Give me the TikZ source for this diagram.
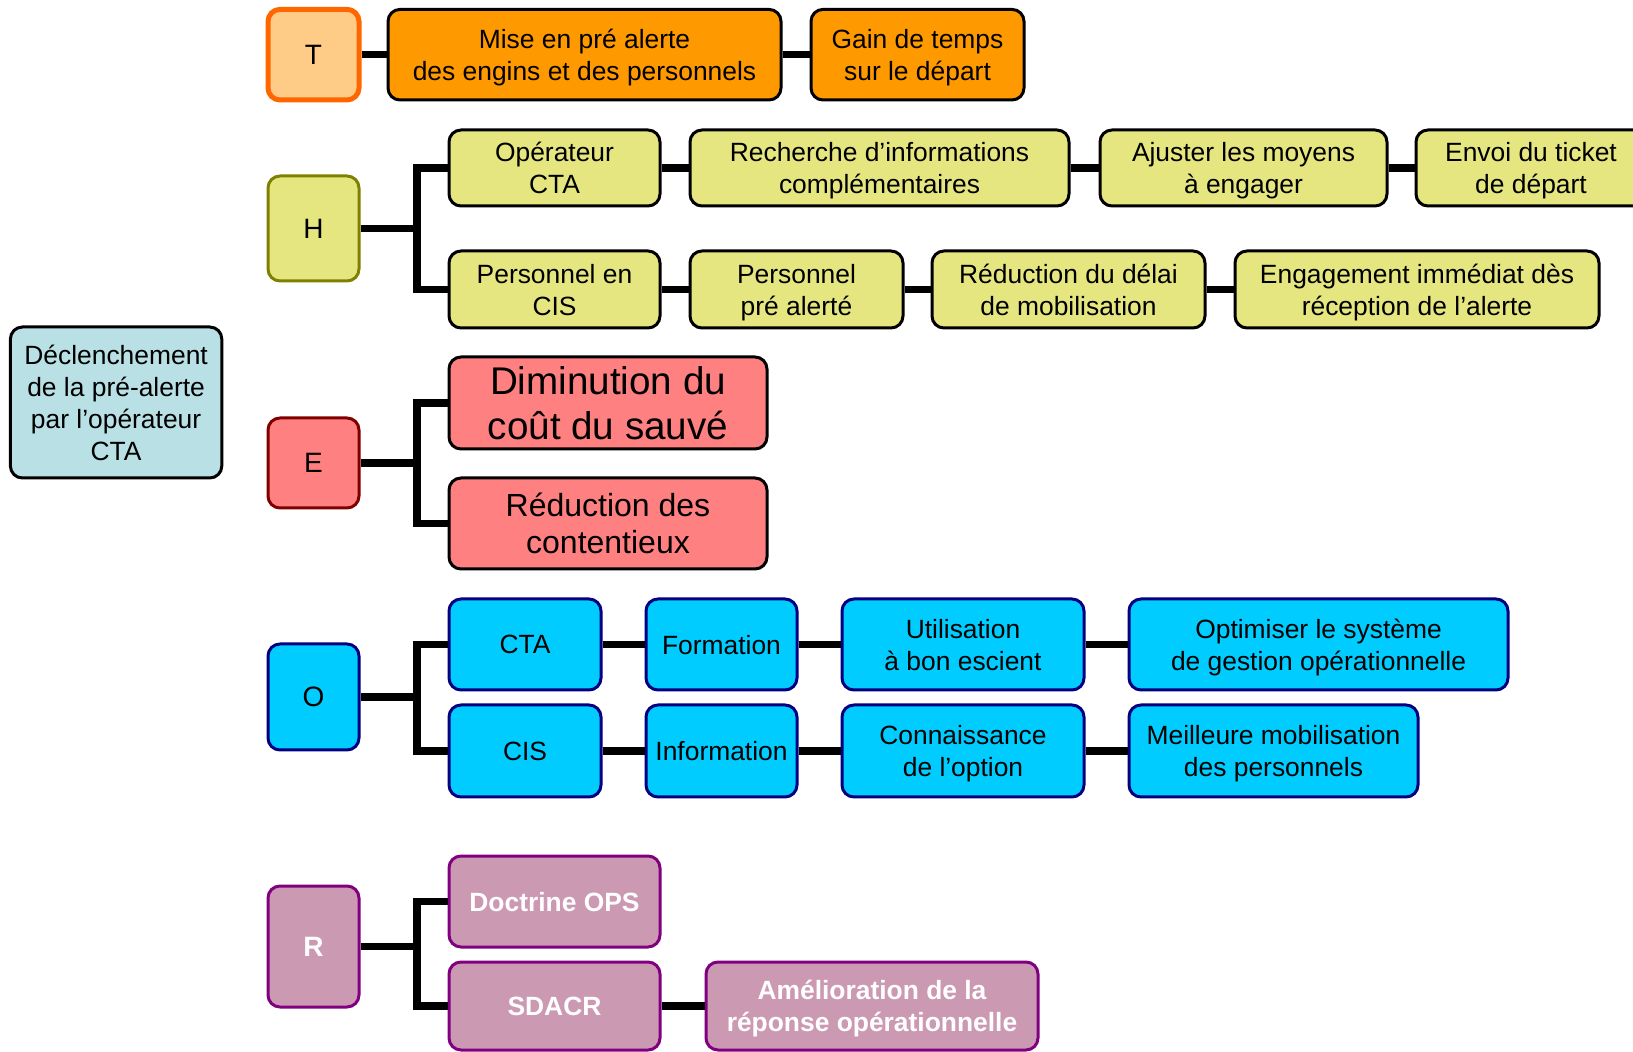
\documentclass[tikz,border=0pt]{standalone}
\usepackage{fontspec}
\setmainfont{Liberation Sans}
\usepackage{xcolor}
\definecolor{tfill}{RGB}{255,204,136}
\definecolor{tline}{RGB}{255,102,0}
\definecolor{orangebox}{RGB}{255,153,0}
\definecolor{hfill}{RGB}{230,230,128}
\definecolor{hline}{RGB}{128,128,0}
\definecolor{efill}{RGB}{255,128,128}
\definecolor{eline}{RGB}{128,0,0}
\definecolor{ofill}{RGB}{0,204,255}
\definecolor{oline}{RGB}{0,0,128}
\definecolor{rfill}{RGB}{204,153,179}
\definecolor{rline}{RGB}{128,0,128}
\definecolor{rootfill}{RGB}{185,224,228}

\begin{document}
\begin{tikzpicture}[x=0.5pt, y=0.5pt, align=center,
    box/.style={draw=black, rounded corners=6pt, line width=1.5pt, inner sep=0pt, text depth=0pt,
      font=\fontsize{13.2}{16}\selectfont},
    letter/.style={box, minimum width=45.5pt, font=\fontsize{14}{16}\selectfont},
    link/.style={black, line width=3.8pt}]
            \useasboundingbox (0,0) rectangle (1633,-1052);
            \clip (0,0) rectangle (1633,-1052);
            \node [box, fill=rootfill, minimum width=105.7pt, minimum height=75.5pt] (root) at (116.1,-402.5) {Déclenchement\\de la pré-alerte\\par l’opérateur\\CTA};
            \node [letter, fill=tfill, draw=tline, line width=2.5pt, minimum height=45.3pt] (T) at (313.5,-54.7) {T};
            \node [box, fill=orangebox, minimum width=196.5pt, minimum height=45.3pt] (mise) at (584.5,-54.7) {Mise en pré alerte\\des engins et des personnels};
            \node [box, fill=orangebox, minimum width=106.5pt, minimum height=45.3pt] (gain) at (917.5,-54.7) {Gain de temps\\sur le départ};
            \draw [link] (T) -- (mise);
            \draw [link] (mise) -- (gain);
            \node [letter, fill=hfill, draw=hline, minimum height=52.5pt] (H) at (313.5,-228.5) {H};
            \node [box, fill=hfill, minimum width=105.5pt, minimum height=38pt] (opcta) at (554.5,-168) {Opérateur\\CTA};
            \node [box, fill=hfill, minimum width=189.5pt, minimum height=38pt] (recherche) at (879.5,-168) {Recherche d’informations\\complémentaires};
            \node [box, fill=hfill, minimum width=143.5pt, minimum height=38pt] (ajuster) at (1243.5,-168) {Ajuster les moyens\\à engager};
            \node [box, fill=hfill, minimum width=115pt, minimum height=38pt] (envoi) at (1531,-168) {Envoi du ticket\\de départ};
            \node [box, fill=hfill, minimum width=105.5pt, minimum height=38.5pt] (perscis) at (554.5,-289.5) {Personnel en\\CIS};
            \node [box, fill=hfill, minimum width=106.5pt, minimum height=38.5pt] (persalerte) at (796.5,-289.5) {Personnel\\pré alerté};
            \node [box, fill=hfill, minimum width=136.5pt, minimum height=38.5pt] (delai) at (1068.5,-289.5) {Réduction du délai\\de mobilisation};
            \node [box, fill=hfill, minimum width=182pt, minimum height=38.5pt] (engagement) at (1417,-289.5) {Engagement immédiat dès\\réception de l’alerte};
            \coordinate (hfork) at (417,-228.5);
            \draw [link] (H) -- (hfork);
            \draw [link] (opcta.west) -| (hfork) |- (perscis.west);
            \draw [link] (opcta) -- (recherche);
            \draw [link] (recherche) -- (ajuster);
            \draw [link] (ajuster) -- (envoi);
            \draw [link] (perscis) -- (persalerte);
            \draw [link] (persalerte) -- (delai);
            \draw [link] (delai) -- (engagement);
            \node [letter, fill=efill, draw=eline, minimum height=45pt] (E) at (313.5,-463) {E};
            \node [box, fill=efill, minimum width=159pt, minimum height=46pt, font=\fontsize{19.3}{22.5}\selectfont] (cout) at (608,-403) {Diminution du\\coût du sauvé};
            \node [box, fill=efill, minimum width=159pt, minimum height=45.5pt, font=\fontsize{16}{18.7}\selectfont] (contentieux) at (608,-523.5) {Réduction des\\contentieux};
            \coordinate (efork) at (417,-463);
            \draw [link] (E) -- (efork);
            \draw [link] (cout.west) -| (efork) |- (contentieux.west);
            \node [letter, fill=ofill, draw=oline, minimum height=53pt] (O) at (313.5,-697) {O};
            \node [box, fill=ofill, draw=oline, minimum width=76pt, minimum height=45.5pt] (octa) at (525,-644.5) {CTA};
            \node [box, fill=ofill, draw=oline, minimum width=75.5pt, minimum height=45.5pt] (formation) at (721.5,-644.5) {Formation};
            \node [box, fill=ofill, draw=oline, minimum width=121pt, minimum height=45.5pt] (utilisation) at (963,-644.5) {Utilisation\\à bon escient};
            \node [box, fill=ofill, draw=oline, minimum width=189.5pt, minimum height=45.5pt] (optimiser) at (1318.5,-644.5) {Optimiser le système\\de gestion opérationnelle};
            \node [box, fill=ofill, draw=oline, minimum width=76pt, minimum height=46pt] (ocis) at (525,-751) {CIS};
            \node [box, fill=ofill, draw=oline, minimum width=75.5pt, minimum height=46pt] (information) at (721.5,-751) {Information};
            \node [box, fill=ofill, draw=oline, minimum width=121pt, minimum height=46pt] (connaissance) at (963,-751) {Connaissance\\de l’option};
            \node [box, fill=ofill, draw=oline, minimum width=144.5pt, minimum height=46pt] (meilleure) at (1273.5,-751) {Meilleure mobilisation\\des personnels};
            \coordinate (ofork) at (417,-697);
            \draw [link] (O) -- (ofork);
            \draw [link] (octa.west) -| (ofork) |- (ocis.west);
            \draw [link] (octa) -- (formation);
            \draw [link] (formation) -- (utilisation);
            \draw [link] (utilisation) -- (optimiser);
            \draw [link] (ocis) -- (information);
            \draw [link] (information) -- (connaissance);
            \draw [link] (connaissance) -- (meilleure);
            \node [letter, fill=rfill, draw=rline, minimum height=60.5pt, text=white, font=\fontsize{14}{16}\selectfont\bfseries] (R) at (313.5,-946.5) {R};
            \node [box, fill=rfill, draw=rline, text=white, font=\fontsize{13.2}{16}\selectfont\bfseries, minimum width=105.5pt, minimum height=45.5pt] (doctrine) at (554.5,-901.5) {Doctrine OPS};
            \node [box, fill=rfill, draw=rline, text=white, font=\fontsize{13.2}{16}\selectfont\bfseries, minimum width=105.5pt, minimum height=44pt] (sdacr) at (554.5,-1006) {SDACR};
            \node [box, fill=rfill, draw=rline, text=white, font=\fontsize{13.2}{16}\selectfont\bfseries, minimum width=166pt, minimum height=44pt] (amelioration) at (872,-1006) {Amélioration de la\\réponse opérationnelle};
            \coordinate (rfork) at (417,-946.5);
            \draw [link] (R) -- (rfork);
            \draw [link] (doctrine.west) -| (rfork) |- (sdacr.west);
            \draw [link] (sdacr) -- (amelioration);
        \end{tikzpicture}
\end{document}
